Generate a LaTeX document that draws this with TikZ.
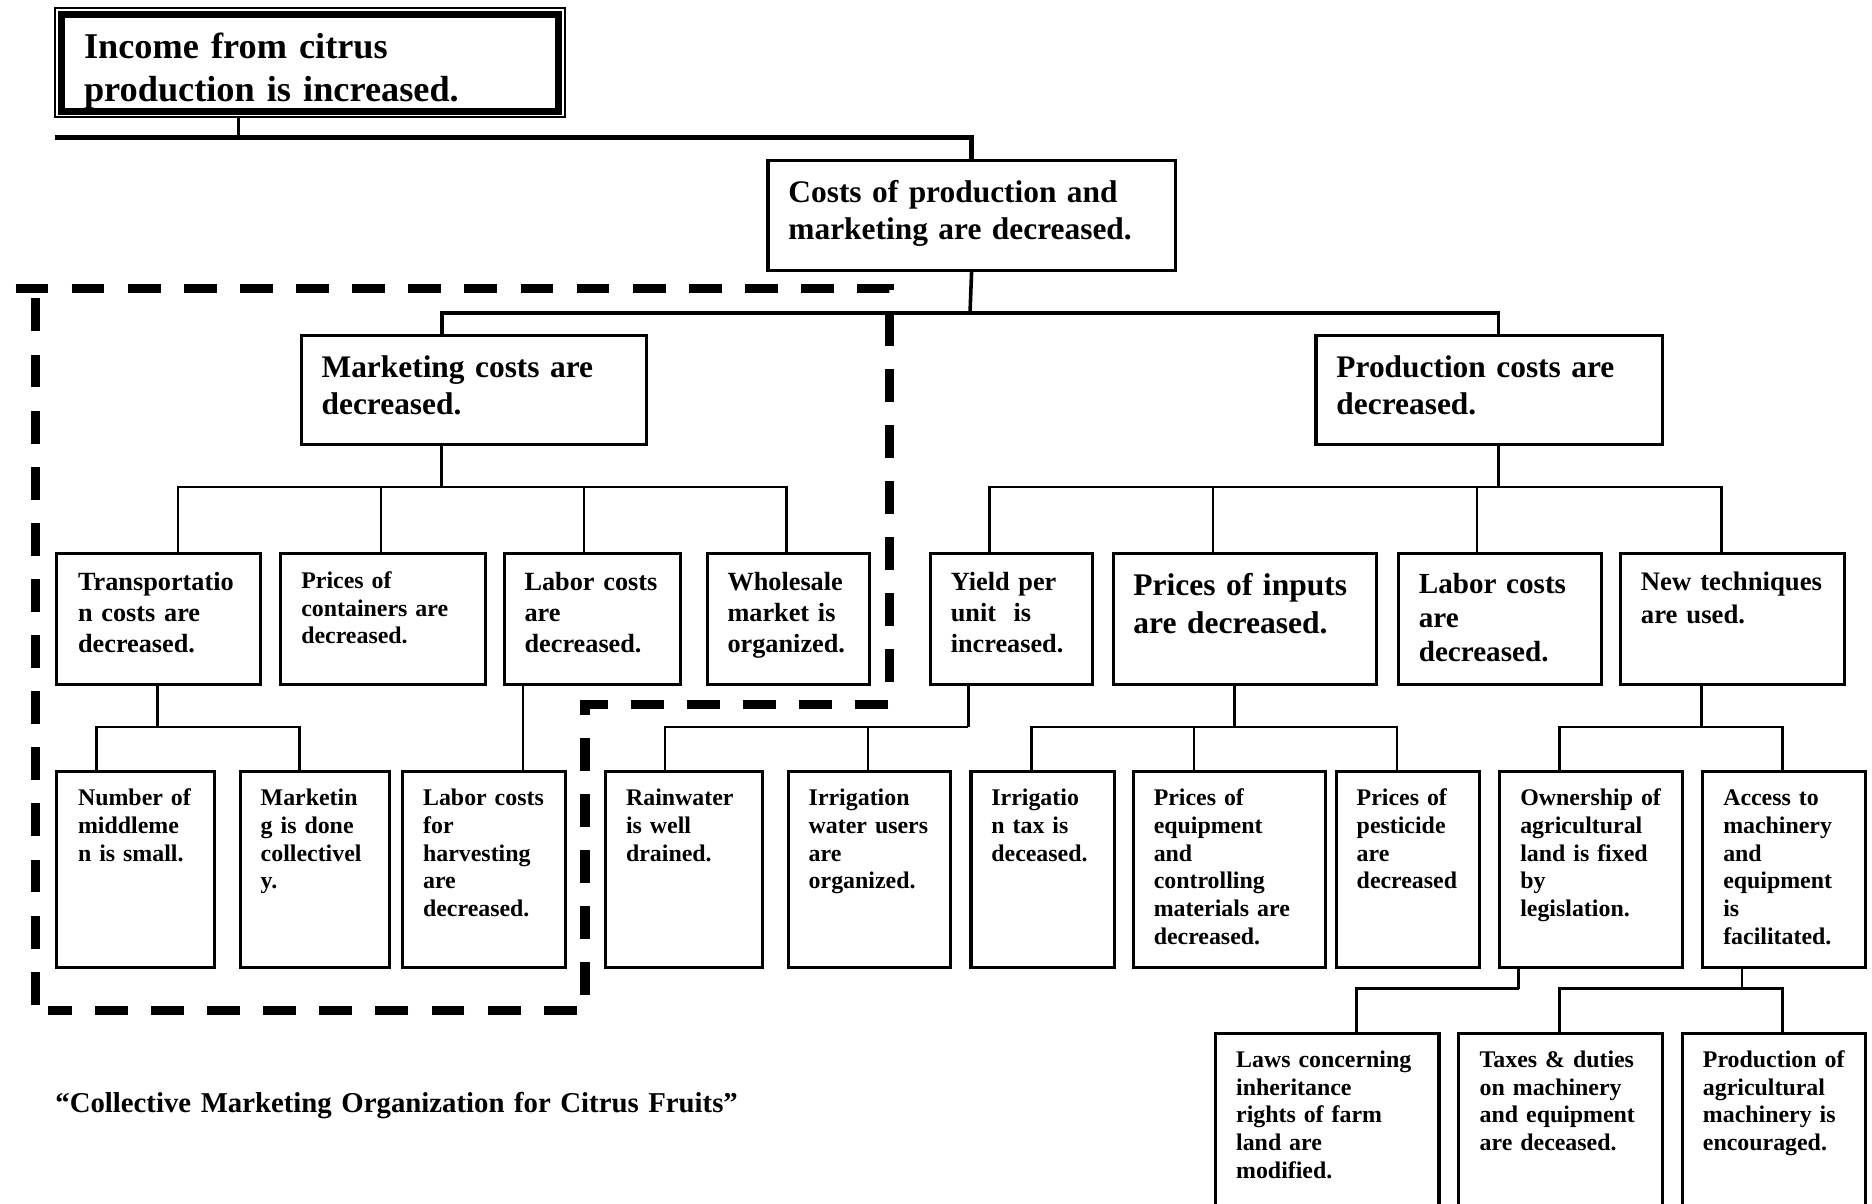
\documentclass[tikz,border=0pt]{standalone}
\usepackage{fontspec}
\setmainfont{Liberation Serif}

\begin{document}
\begin{tikzpicture}[x=0.5pt,y=-0.5pt,
                    cbox/.style 2 args={draw,rectangle,line width=1.3pt,inner sep=0pt,anchor=north west,
                                        minimum width=#1*0.5pt,minimum height=#2*0.5pt},
                    txt/.style={anchor=base west,inner sep=0pt,align=left,text width=220pt},
                    head text/.style={txt,font=\fontsize{15.2}{18}\selectfont\bfseries},
                    mid text/.style={txt,font=\fontsize{13.15}{15.5}\selectfont\bfseries},
                    box text/.style={txt,font=\fontsize{11}{13}\selectfont\bfseries},
                    fine text/.style={txt,font=\fontsize{10}{11.6}\selectfont\bfseries},
                    link/.style={line width=1.1pt},
                    bus/.style={line width=1.5pt},
                    fence/.style={line width=3.8pt,dash pattern=on 13.75pt off 9.75pt}]

  \useasboundingbox (0,0) rectangle (1568,1008);

  % top goal, thin outer frame with a heavy inner frame
  \node[cbox={427}{91.5},line width=0.8pt] (income) at (45.5,6) {};
  \draw[line width=2.9pt] ([shift={(6,6)}]income.north west) rectangle ([shift={(-6,-6)}]income.south east);
  \begin{scope}
    \clip ([shift={(8.9,8.9)}]income.north west) rectangle ([shift={(-8.9,-8.9)}]income.south east);
    \node[head text] (income-t) at (70,49) {Income from citrus\\production is increased.};
  \end{scope}

  % second and third level
  \node[cbox={341}{92}] (costs) at (642,133) {};
  \node[mid text] (costs-t) at (660,170) {Costs of production and\\marketing are decreased.};
  \node[cbox={289}{91}] (mkt) at (251,280) {};
  \node[mid text] (mkt-t) at (269,316) {Marketing costs are\\decreased.};
  \node[cbox={290}{91}] (prod) at (1101,280) {};
  \node[mid text] (prod-t) at (1119,316) {Production costs are\\decreased.};

  % marketing side
  \node[cbox={171}{110}] (trans) at (46,462) {};
  \node[box text] (trans-t) at (65,494.5) {Transportatio\\n costs are\\decreased.};
  \node[cbox={171}{110}] (cont) at (234,462) {};
  \node[fine text,font=\fontsize{10}{11.5}\selectfont\bfseries] (cont-t) at (252,493) {Prices of\\containers are\\decreased.};
  \node[cbox={148}{110}] (labm) at (421,462) {};
  \node[box text] (labm-t) at (439,494.5) {Labor costs\\are\\decreased.};
  \node[cbox={136}{110}] (whole) at (591,462) {};
  \node[box text] (whole-t) at (609,494.5) {Wholesale\\market is\\organized.};

  % production side
  \node[cbox={136}{110}] (yield) at (778,462) {};
  \node[box text] (yield-t) at (796,494.5) {Yield per\\unit\ \ is\\increased.};
  \node[cbox={221}{110}] (inputs) at (931,462) {};
  \node[mid text,font=\fontsize{13.2}{16}\selectfont\bfseries] (inputs-t) at (949,499) {Prices of inputs\\are decreased.};
  \node[cbox={170}{110}] (labp) at (1170,462) {};
  \node[box text,font=\fontsize{12.2}{14.3}\selectfont\bfseries] (labp-t) at (1188,497) {Labor costs\\are\\decreased.};
  \node[cbox={188}{110}] (newt) at (1356,462) {};
  \node[box text,font=\fontsize{11.2}{13.5}\selectfont\bfseries] (newt-t) at (1374,495) {New techniques\\are used.};

  % fourth level
  \node[cbox={132}{164}] (middle) at (46,645) {};
  \node[fine text] (middle-t) at (65,675) {Number of\\middleme\\n is small.};
  \node[cbox={125}{164}] (coll) at (200,645) {};
  \node[fine text] (coll-t) at (218,675) {Marketin\\g is done\\collectivel\\y.};
  \node[cbox={136}{164}] (harv) at (336,645) {};
  \node[fine text] (harv-t) at (354,675) {Labor costs\\for\\harvesting\\are\\decreased.};
  \node[cbox={131}{164}] (rain) at (506,645) {};
  \node[fine text] (rain-t) at (524,675) {Rainwater\\is well\\drained.};
  \node[cbox={136}{164}] (irrw) at (659,645) {};
  \node[fine text] (irrw-t) at (677,675) {Irrigation\\water users\\are\\organized.};
  \node[cbox={120}{164}] (irrt) at (812,645) {};
  \node[fine text] (irrt-t) at (830,675) {Irrigatio\\n tax is\\deceased.};
  \node[cbox={161}{164}] (equip) at (948,645) {};
  \node[fine text] (equip-t) at (966,675) {Prices of\\equipment\\and\\controlling\\materials are\\decreased.};
  \node[cbox={120}{164}] (pest) at (1118,645) {};
  \node[fine text] (pest-t) at (1136,675) {Prices of\\pesticide\\are\\decreased};
  \node[cbox={153}{164}] (own) at (1255,645) {};
  \node[fine text] (own-t) at (1273,675) {Ownership of\\agricultural\\land is fixed\\by\\legislation.};
  \node[cbox={136}{164}] (access) at (1425,645) {};
  \node[fine text] (access-t) at (1443,675) {Access to\\machinery\\and\\equipment\\is\\facilitated.};

  % fifth level, runs off the page
  \node[cbox={187}{180}] (laws) at (1017,864) {};
  \node[fine text] (laws-t) at (1035,894) {Laws concerning\\inheritance\\rights of farm\\land are\\modified.};
  \node[cbox={171}{180}] (taxes) at (1220,864) {};
  \node[fine text] (taxes-t) at (1239,894) {Taxes \& duties\\on machinery\\and equipment\\are deceased.};
  \node[cbox={153}{180}] (prodm) at (1408,864) {};
  \node[fine text] (prodm-t) at (1426,894) {Production of\\agricultural\\machinery is\\encouraged.};

  \node[txt,text width=420pt,font=\fontsize{12.05}{14}\selectfont\bfseries] (title) at (46,932)
    {“Collective Marketing Organization for Citrus Fruits”};

  % bus points of the tree
  \coordinate (top-end) at (46,115);
  \coordinate (costs-bus) at (812.5,262);
  \coordinate (mkt-bus) at (370,408);
  \coordinate (prod-bus) at (1255,408);
  \coordinate (trans-bus) at (132,609);
  \coordinate (yield-bus) at (811,609);
  \coordinate (inputs-bus) at (1034,609);
  \coordinate (newt-bus) at (1425,609);
  \coordinate (own-bus) at (1272,828);
  \coordinate (access-bus) at (1459,828);

\draw[link] (income.south -| 200,0) |- (top-end);
\draw[bus,line width=1.9pt] (top-end) -| (costs.north);
\draw[bus] (costs.south) -- (costs-bus);
\draw[bus] (mkt.north -| mkt-bus) |- (costs-bus);
\draw[bus] (prod.north -| prod-bus) |- (costs-bus);

\draw[link] (mkt.south -| mkt-bus) -- (mkt-bus);
\draw[link] (trans.north -| 149,0) |- (mkt-bus);
\draw[link] (cont.north -| 319,0) |- (mkt-bus);
\draw[link] (labm.north -| 489,0) |- (mkt-bus);
\draw[link] (whole.north -| 659,0) |- (mkt-bus);

\draw[bus] (prod.south -| prod-bus) -- (prod-bus);
\draw[link] (yield.north -| 829,0) |- (prod-bus);
\draw[link] (inputs.north -| 1016,0) |- (prod-bus);
\draw[link] (labp.north -| 1237,0) |- (prod-bus);
\draw[link] (newt.north -| 1442,0) |- (prod-bus);

\draw[link] (trans.south -| trans-bus) -- (trans-bus);
\draw[link] (middle.north -| 81,0) |- (trans-bus);
\draw[link] (coll.north -| 251,0) |- (trans-bus);
\draw[link] (labm.south -| 438,0) -- (harv.north -| 438,0);

\draw[link] (yield.south -| yield-bus) -- (yield-bus);
\draw[link] (rain.north -| 557,0) |- (yield-bus);
\draw[link] (irrw.north -| 727,0) |- (yield-bus);

\draw[link] (inputs.south -| inputs-bus) -- (inputs-bus);
\draw[link] (irrt.north -| 864,0) |- (inputs-bus);
\draw[link] (equip.north -| 1000,0) |- (inputs-bus);
\draw[link] (pest.north -| 1170,0) |- (inputs-bus);

\draw[link] (newt.south -| newt-bus) -- (newt-bus);
\draw[link] (own.north -| 1306,0) |- (newt-bus);
\draw[link] (access.north -| 1493,0) |- (newt-bus);

\draw[link] (own.south -| own-bus) -- (own-bus);
\draw[link] (laws.north -| 1136,0) |- (own-bus);
\draw[link] (access.south -| access-bus) -- (access-bus);
\draw[link] (taxes.north -| 1306,0) |- (access-bus);
\draw[link] (prodm.north -| 1493,0) |- (access-bus);

  % dashed fence round the marketing branch
  \draw[fence] (13,242) -- (745,242) -- (745,590) -- (490,590) -- (490,846) -- (40,846);
  \draw[fence] (30,250) -- (30,846);

\end{tikzpicture}
\end{document}
